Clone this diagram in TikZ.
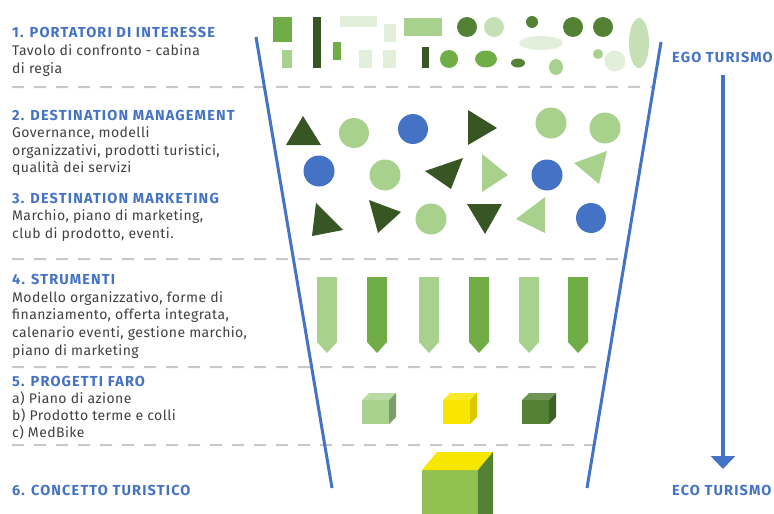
\documentclass[tikz,border=0pt]{standalone}
\usepackage{fontspec}
\setmainfont{Fira Sans}[LetterSpace=3]
\newfontfamily\headfont{Fira Sans}[LetterSpace=8]
\usetikzlibrary{arrows.meta,calc}

\definecolor{dk}{HTML}{375623}
\definecolor{md}{HTML}{548235}
\definecolor{gr}{HTML}{70AD47}
\definecolor{lt}{HTML}{A9D18E}
\definecolor{lt2}{HTML}{C5E0B4}
\definecolor{vlt}{HTML}{E2EFDA}
\definecolor{fblue}{HTML}{4472C4}
\definecolor{txt}{HTML}{404040}
\definecolor{dashgray}{HTML}{C8C8C8}
\definecolor{yel}{HTML}{F7E600}
\definecolor{yelside}{HTML}{DCC800}
\definecolor{bigfront}{HTML}{92C050}

% heading line inside a text block
\newcommand{\hd}[1]{{\headfont\bfseries\fontsize{14.5}{17.6}\selectfont\color{fblue}#1}}

% small cube: x, y (front top-left), front, top, side colours
\newcommand{\smallcube}[5]{%
  \fill[#3] (#1,#2) rectangle (#1+27,#2+24);
  \fill[#4] (#1,#2) -- (#1+7,#2-7) -- (#1+34,#2-7) -- (#1+27,#2) -- cycle;
  \fill[#5] (#1+27,#2) -- (#1+34,#2-7) -- (#1+34,#2+17) -- (#1+27,#2+24) -- cycle;
}

\begin{document}
\begin{tikzpicture}[x=1pt,y=-1pt,
  block/.style={anchor=base west,align=left,inner sep=0pt,text=txt,
    font=\fontsize{14}{17.6}\selectfont},
  side/.style={anchor=base west,inner sep=0pt,text=fblue,
    font=\headfont\bfseries\fontsize{14.5}{15}\selectfont},
  funnel/.style={fblue,line width=3pt},
  sep/.style={dashgray,line width=2pt,dash pattern=on 12pt off 10pt},
  flow/.style={fblue,line width=3.5pt,-{Triangle[width=24pt,length=13pt]}}
]
\useasboundingbox (0,0) rectangle (774,514);

% ---------- funnel and separators ----------
\coordinate (fl1) at (256,37);
\coordinate (fl2) at (332,488);
\coordinate (fr1) at (661,42);
\coordinate (fr2) at (587,488);

\foreach \yy in {87,259,367,445}{
  \draw[sep] (12,\yy) -- ($(fr1)!{(\yy-42)/446}!(fr2)$);
}
\draw[funnel] (fl1) -- (fl2);
\draw[funnel] (fr1) -- (fr2);

% ---------- left column (anchored on the last baseline) ----------
\node[block] (h1) at (12,73.2) {\hd{1. PORTATORI DI INTERESSE}\\Tavolo di confronto - cabina\\di regia};
\node[block] (h2) at (12,172.8) {\hd{2. DESTINATION MANAGEMENT}\\Governance, modelli\\organizzativi, prodotti turistici,\\qualità dei servizi};
\node[block] (h3) at (12,238.2) {\hd{3. DESTINATION MARKETING}\\Marchio, piano di marketing,\\club di prodotto, eventi.};
\node[block] (h4) at (12,355) {\hd{4. STRUMENTI}\\Modello organizzativo, forme di\\finanziamento, offerta integrata,\\calenario eventi, gestione marchio,\\piano di marketing};
\node[block,font=\fontsize{14}{17}\selectfont] (h5) at (12,437.5) {\hd{5. PROGETTI FARO}\\a) Piano di azione\\b) Prodotto terme e colli\\c) MedBike};
\node[block] (h6) at (12,495) {\hd{6. CONCETTO TURISTICO}};

% ---------- right column ----------
\node[side] (ego) at (672,62) {EGO TURISMO};
\node[side] (eco) at (672,495) {ECO TURISMO};
\coordinate (arrTop) at (723,75);
\coordinate (arrEnd) at (723,469);
\draw[flow] (arrTop) -- (arrEnd);

% ---------- level 1: stakeholders ----------
\fill[gr]  (273,17) rectangle (292,42);
\fill[lt]  (282,50) rectangle (292,68);
\fill[dk]  (313,17) rectangle (321,68);
\fill[gr]  (333,42) rectangle (341,60);
\fill[vlt] (340,16) rectangle (377,27);
\fill[vlt] (384,24) rectangle (396,42);
\fill[vlt] (359,50) rectangle (372,68);
\fill[vlt] (383,50) rectangle (396,68);
\fill[lt]  (404,18) rectangle (442,36);
\fill[dk]  (422,47) rectangle (429,68);
\fill[md]  (467,27) circle[radius=10];
\fill[lt2] (494,27) circle[radius=10];
\fill[md]  (532,22) circle[radius=6];
\fill[md]  (573,27) circle[radius=10];
\fill[md]  (603,27) circle[radius=10];
\fill[lt2] (639,43) ellipse[x radius=10,y radius=25];
\fill[vlt] (541,43) ellipse[x radius=22,y radius=7];
\fill[gr]  (449,59) circle[radius=9];
\fill[gr]  (486,59) ellipse[x radius=11,y radius=8.5];
\fill[md]  (518,63) ellipse[x radius=7,y radius=4.5];
\fill[lt]  (556,67) ellipse[x radius=7,y radius=8];
\fill[lt]  (598,54) circle[radius=5];
\fill[vlt] (615,61) circle[radius=10.5];

% ---------- levels 2-3: management and marketing ----------
\fill[dk]  (286,145) -- (321,145) -- (303,116) -- cycle;
\fill[lt]  (354,133) circle[radius=15];
\fill[fblue] (413,129) circle[radius=15];
\fill[dk]  (468,110) -- (468,145) -- (497,128) -- cycle;
\fill[lt]  (551,123) circle[radius=15.5];
\fill[lt]  (605,128) circle[radius=15.5];

\fill[fblue] (319,171) circle[radius=15.5];
\fill[lt]  (385,175) circle[radius=15.5];
\fill[dk]  (425,171) -- (463,158) -- (451,189) -- cycle;
\fill[lt]  (482,154) -- (482,192) -- (508,175) -- cycle;
\fill[fblue] (547,175) circle[radius=15.5];
\fill[lt]  (574,163) -- (607,151) -- (599,184) -- cycle;

\fill[dk]  (316,203) -- (312,236) -- (343,230) -- cycle;
\fill[dk]  (369,200) -- (401,212) -- (378,233) -- cycle;
\fill[lt]  (431,219) circle[radius=15.5];
\fill[dk]  (467,204) -- (502,204) -- (485,234) -- cycle;
\fill[lt]  (516,219) -- (545,197) -- (545,233) -- cycle;
\fill[fblue] (591,218) circle[radius=15];

% ---------- level 4: tools ----------
\foreach \xx/\cc in {317/lt,367/gr,419/lt,469/gr,519/lt,568/gr}{
  \fill[\cc] (\xx,277) -- (\xx+20,277) -- (\xx+20,342) -- (\xx+10,353)
    -- (\xx,342) -- cycle;
}

% ---------- level 5: flagship projects ----------
\smallcube{362}{400}{lt}{lt!80!white}{lt!75!black}
\smallcube{443}{400}{yel}{yel!85!white}{yelside}
\smallcube{522}{400}{md}{md!85!white}{md!75!black}

% ---------- level 6: tourism concept ----------
\fill[bigfront] (422,470) rectangle (478,520);
\fill[yel] (422,470) -- (437,452) -- (493,452) -- (478,470) -- cycle;
\fill[md] (478,470) -- (493,452) -- (493,520) -- (478,520) -- cycle;
\end{tikzpicture}
\end{document}
